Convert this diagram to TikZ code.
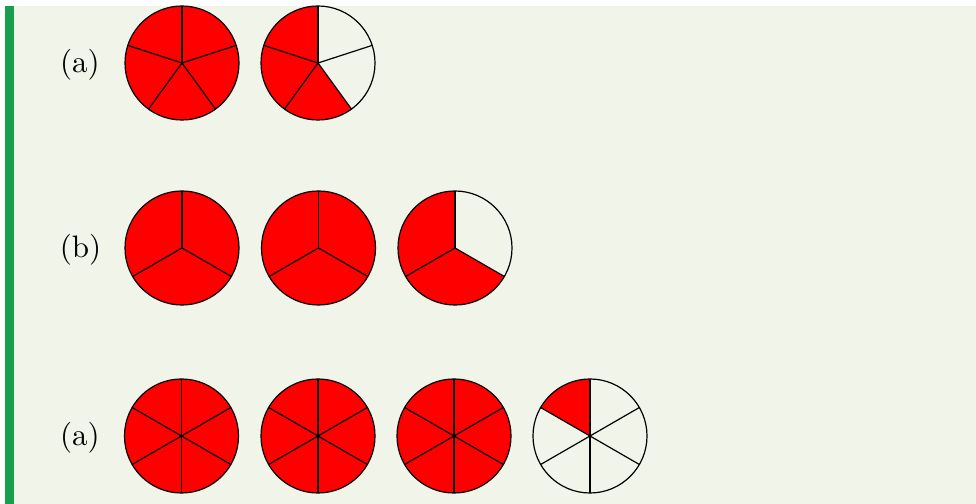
\documentclass[tikz,border=0pt]{standalone}
\definecolor{bg}{RGB}{241,244,232}
\definecolor{barg}{RGB}{22,160,76}
\newcommand{\mypie}[4]{% cx, cy, n, k
  \foreach \i in {1,...,#3} {
    \pgfmathsetmacro\pa{90+360/#3*(\i-1)}
    \pgfmathsetmacro\pb{90+360/#3*\i}
    \ifnum\i>#4\relax\else
      \fill[red] (#1,#2) -- ++(\pa:57) arc[start angle=\pa, end angle=\pb, radius=57] -- cycle;
    \fi
  }
  \draw[pie] (#1,#2) circle[radius=57];
  \foreach \i in {1,...,#3} {
    \pgfmathsetmacro\pa{90+360/#3*(\i-1)}
    \draw[pie] (#1,#2) -- ++(\pa:57);
  }
}
\begin{document}
\begin{tikzpicture}[x=0.5pt,y=0.5pt,
  pie/.style={line width=0.6pt, line join=round},
  lab/.style={font=\fontsize{10}{12}\selectfont, scale=1.55, inner sep=0pt}]
\useasboundingbox (0,0) rectangle (976,504);
\fill[white] (0,0) rectangle (976,504);
\fill[bg] (14,0) rectangle (976,498);
\fill[barg] (5,0) rectangle (14,498);
% labels
\node[lab] (la) at (80,439) {(a)};
\node[lab] (lb) at (80.5,254) {(b)};
\node[lab] (lc) at (80,66) {(a)};
% row a
\mypie{182}{441}{5}{5}
\mypie{318}{441}{5}{3}
% row b
\mypie{182}{256}{3}{3}
\mypie{318.5}{256}{3}{3}
\mypie{455}{256}{3}{2}
% row c
\mypie{181.5}{68}{6}{6}
\mypie{318}{68}{6}{6}
\mypie{454}{68}{6}{6}
\mypie{590}{68}{6}{1}
\end{tikzpicture}
\end{document}
